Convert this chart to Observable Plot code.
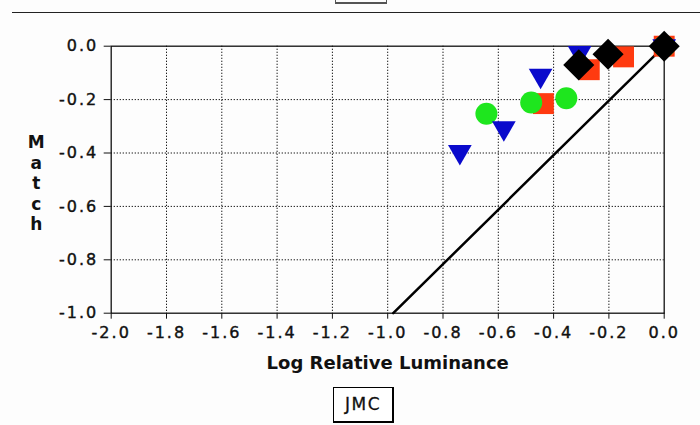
<!DOCTYPE html>
<html>
<head>
<meta charset="utf-8">
<script src="https://cdn.jsdelivr.net/npm/d3@7"></script>
<script src="https://cdn.jsdelivr.net/npm/@observablehq/plot@0.6"></script>
<style>
  html, body { margin: 0; padding: 0; background: #fdfdfd; }
  #wrap { position: relative; width: 700px; height: 425px; overflow: hidden; font-family: "DejaVu Sans", sans-serif; }
  #topline { position: absolute; left: 12px; right: 0; top: 12px; height: 0; border-top: 1.5px solid #222; }
  #topbox { position: absolute; left: 335px; top: -20px; width: 50px; height: 21px; border: 1px solid #555; border-bottom-width: 2px; }
  #jmc { position: absolute; left: 333px; top: 387px; width: 58px; height: 33px; border: 1px solid #000; border-right-width: 2px; border-bottom-width: 2px; background: #fff;
         font-size: 17px; letter-spacing: 1.5px; line-height: 33px; text-align: center; color: #111; -webkit-text-stroke: 0.3px #111; }
</style>
</head>
<body>
<div id="wrap">
  <div id="topline"></div>
  <div id="topbox"></div>
  <div id="chart"></div>
  <div id="jmc">JMC</div>
</div>
<script>
// Tick values
const xTicks = [-2.0, -1.8, -1.6, -1.4, -1.2, -1.0, -0.8, -0.6, -0.4, -0.2, 0.0];
const yTicks = [-1.0, -0.8, -0.6, -0.4, -0.2, 0.0];

// Series: blue down-triangles
const blueX = [-0.739, -0.580, -0.447, -0.306, 0.0];
const blueY = [-0.396, -0.307, -0.110, -0.025, 0.0];
// Series: green circles
const greenX = [-0.643, -0.481, -0.354, 0.0];
const greenY = [-0.253, -0.211, -0.195, 0.0];
// Series: red squares
const redX = [-0.437, -0.271, -0.147, 0.0];
const redY = [-0.215, -0.088, -0.040, 0.0];
// Series: black diamonds
const blackX = [-0.309, -0.203, 0.0];
const blackY = [-0.070, -0.030, 0.0];
// Reference line
const lineX = [-0.98, 0.0];
const lineY = [-1.0, 0.0];

const xTitle = "Log Relative Luminance";
const yTitle = "Match";

const zip = (xs, ys) => xs.map((x, i) => ({x, y: ys[i]}));
const fmt = d => (Math.abs(d) < 1e-9 ? 0 : d).toFixed(1);

const chart = Plot.plot({
  width: 700,
  height: 425,
  marginLeft: 110.7,
  marginRight: 36.3,
  marginTop: 45.7,
  marginBottom: 112.3,
  style: { fontFamily: "DejaVu Sans, sans-serif", fontSize: "16px", background: "transparent", color: "#111" },
  x: { domain: [-2, 0] },
  y: { domain: [-1, 0] },
  marks: [
    Plot.gridX({ ticks: xTicks.slice(1, -1), stroke: "#000", strokeOpacity: 1, strokeDasharray: "1.2,1.8", strokeWidth: 1 }),
    Plot.gridY({ ticks: yTicks.slice(1, -1), stroke: "#000", strokeOpacity: 1, strokeDasharray: "1.2,1.8", strokeWidth: 1 }),
    Plot.frame({ stroke: "#111", strokeWidth: 1.3 }),
    Plot.axisX({ ticks: xTicks, tickFormat: fmt, tickSize: 6, tickPadding: 7, label: null, fontSize: 16 }),
    Plot.axisY({ ticks: yTicks, tickFormat: fmt, tickSize: 7, tickPadding: 6, label: null, fontSize: 16 }),
    Plot.line(zip(lineX, lineY), { x: "x", y: "y", stroke: "#000", strokeWidth: 2.5 }),
    Plot.dot(zip(redX, redY), { x: "x", y: "y", symbol: "square", r: 11.8, fill: "#ff3a10", stroke: "none" }),
    Plot.dot(zip(greenX, greenY), { x: "x", y: "y", symbol: "circle", r: 11, fill: "#1ee61e", stroke: "none" }),
    Plot.dot(zip(blueX, blueY), { x: "x", y: "y", symbol: "triangle", rotate: 180, r: 8.8, fill: "#0a0acc", stroke: "none" }),
    Plot.dot(zip(blackX, blackY), { x: "x", y: "y", symbol: "diamond2", r: 14, fill: "#000", stroke: "none" }),
    Plot.text([xTitle], { frameAnchor: "bottom", dy: 56, fontWeight: "bold", fontSize: 18, fill: "#111" }),
    Plot.text([yTitle.split("").join("\n")], { frameAnchor: "left", dx: -75, dy: 3, textAnchor: "middle", fontWeight: "bold", fontSize: 17, lineHeight: 1.2, fill: "#111" })
  ]
});

d3.select(chart).selectAll('g[aria-label$="tick label"] text')
  .attr("letter-spacing", "2px")
  .attr("stroke", "#111")
  .attr("stroke-width", 0.4);
document.getElementById("chart").appendChild(chart);
</script>
</body>
</html>
